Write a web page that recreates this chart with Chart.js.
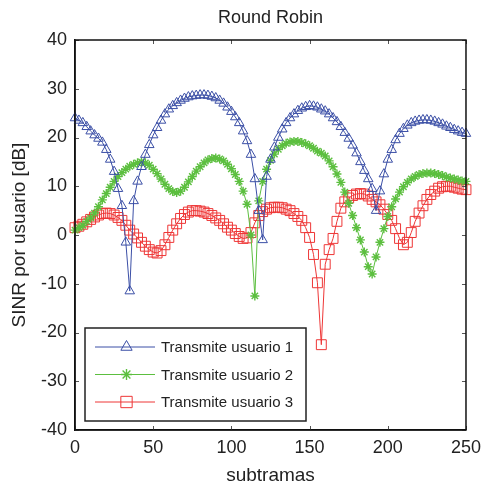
<!DOCTYPE html>
<html>
<head>
<meta charset="utf-8">
<script src="https://cdn.jsdelivr.net/npm/chart.js@4"></script>
<style>
  html, body { margin: 0; padding: 0; background: #fff; }
  #grafico { display: block; }
</style>
</head>
<body>
<canvas id="grafico" width="488" height="493"></canvas>
<script>
// subtramas (eje x)
const subtramas = [
  0, 2.5, 5, 7.5, 10, 12.5, 15, 17.5, 20, 22.5,
  25, 27.5, 30, 32.5, 35, 37.5, 40, 42.5, 45, 47.5,
  50, 52.5, 55, 57.5, 60, 62.5, 65, 67.5, 70, 72.5,
  75, 77.5, 80, 82.5, 85, 87.5, 90, 92.5, 95, 97.5,
  100, 102.5, 105, 107.5, 110, 112.5, 115, 117.5, 120, 122.5,
  125, 127.5, 130, 132.5, 135, 137.5, 140, 142.5, 145, 147.5,
  150, 152.5, 155, 157.5, 160, 162.5, 165, 167.5, 170, 172.5,
  175, 177.5, 180, 182.5, 185, 187.5, 190, 192.5, 195, 197.5,
  200, 202.5, 205, 207.5, 210, 212.5, 215, 217.5, 220, 222.5,
  225, 227.5, 230, 232.5, 235, 237.5, 240, 242.5, 245, 247.5,
  250
];

// SINR [dB] de cada usuario
const usuario1 = [
  24, 23.5, 23, 22.2, 21.3, 20.5, 19.8, 19, 17.5, 15.5,
  13, 9.5, 6, -1.5, -11.5, 7, 11, 14, 16.5, 18.5,
  20.5, 22, 23.5, 24.8, 25.8, 26.5, 27.1, 27.6, 28, 28.3,
  28.5, 28.6, 28.7, 28.7, 28.6, 28.4, 28.1, 27.6, 27, 26.2,
  25.3, 24.2, 23, 21.3, 19.3, 16.5, 11.5, 5, -1, 12,
  15.5, 18, 20, 21.7, 23, 24, 24.8, 25.5, 26, 26.3,
  26.5, 26.4, 26.2, 25.8, 25.4, 24.8, 24, 23.2, 22.2, 21,
  19.8, 18.4, 16.8, 15, 13.2, 11.5, 9.5, 5, 9, 12.5,
  15.5, 17.5, 19.5, 20.8, 21.8, 22.5, 23, 23.3, 23.5, 23.6,
  23.6, 23.5, 23.3, 23, 22.7, 22.3, 22, 21.6, 21.3, 21,
  20.8
];
const usuario2 = [
  1, 1.5, 2, 2.8, 3.5, 4.5, 5.8, 7.2, 8.5, 9.8,
  11, 12, 12.8, 13.5, 14.1, 14.5, 14.8, 15, 14.8, 14.3,
  13.5, 12.6, 11.5, 10.4, 9.5, 8.9, 8.7, 9, 9.8, 10.9,
  12, 13.1, 14, 14.8, 15.4, 15.7, 15.8, 15.6, 15.2, 14.5,
  13.6, 12.4, 11, 9, 6.3, 0, -12.5, 7, 11, 13.5,
  15.3, 16.6, 17.6, 18.3, 18.8, 19.1, 19.2, 19.2, 19, 18.7,
  18.3, 17.8, 17.2, 16.8, 16.2, 15.2, 14, 12.5, 10.8, 8.8,
  6.5, 4, 1.5, -1, -3.5, -6.5, -8, -4.5, -1.5, 1.3,
  3.8, 5.8, 7.4, 8.8, 9.9, 10.8, 11.5, 12, 12.4, 12.6,
  12.7, 12.7, 12.6, 12.4, 12.2, 11.9, 11.7, 11.5, 11.3, 11.1,
  11
];
const usuario3 = [
  1.5, 1.8, 2.2, 2.7, 3.2, 3.7, 4.1, 4.4, 4.5, 4.4,
  4.1, 3.6, 3, 2, 1, 0.2, -0.6, -1.5, -2.3, -3,
  -3.5, -3.7, -3.2, -2, -0.5, 1, 2.3, 3.4, 4.2, 4.7,
  5, 5, 4.9, 4.7, 4.4, 4, 3.5, 3, 2.3, 1.6,
  1, 0.3, -0.3, -0.7, -0.6, 0.5, 2.5, 4, 4.8, 5.3,
  5.6, 5.7, 5.7, 5.6, 5.3, 5, 4.4, 3.8, 3, 1.5,
  -0.5, -4, -9.8, -22.5, -6, -3, -0.7, 2.8, 5.5, 6.8,
  7.6, 8.1, 8.4, 8.5, 8.4, 8, 7.3, 6.8, 6.2, 5.3,
  4.2, 3, 1.3, -0.7, -2, -1.5, 0.5, 2.8, 4.5, 6,
  7.3, 8.3, 9, 9.6, 9.9, 10, 10, 9.8, 9.6, 9.4,
  9.3
];

const titulo = "Round Robin";
const nombres = ["Transmite usuario 1", "Transmite usuario 2", "Transmite usuario 3"];
const ticksX = [0, 50, 100, 150, 200, 250];
const ticksY = [-40, -30, -20, -10, 0, 10, 20, 30, 40];

const azul = "#3b4fa6";
const verde = "#5cbf3f";
const rojo = "#ee3636";
const fuente = "'Liberation Sans', Arial, sans-serif";

function puntos(ys) {
  return subtramas.map((x, i) => ({ x: x, y: ys[i] }));
}

function serie(label, ys, color, estilo, radio, grosor) {
  return {
    label: label,
    data: puntos(ys),
    borderColor: color,
    borderWidth: 1,
    pointStyle: estilo,
    pointRadius: radio,
    pointBorderColor: color,
    pointBackgroundColor: "rgba(0,0,0,0)",
    pointBorderWidth: grosor,
    tension: 0,
    clip: false
  };
}

// titulo centrado sobre el area de datos
const tituloCentrado = {
  id: "tituloCentrado",
  afterDraw(chart) {
    const { ctx, chartArea: a } = chart;
    ctx.save();
    ctx.fillStyle = "#222";
    ctx.font = "18px " + fuente;
    ctx.textAlign = "center";
    ctx.textBaseline = "middle";
    ctx.fillText(titulo, (a.left + a.right) / 2, 18);
    ctx.restore();
  }
};

// marcas hacia dentro y caja, estilo matlab
const cajaMatlab = {
  id: "cajaMatlab",
  afterDraw(chart) {
    const { ctx, chartArea: a, scales: { x, y } } = chart;
    ctx.save();
    ctx.strokeStyle = "#555";
    ctx.lineWidth = 1;
    ctx.beginPath();
    ticksX.forEach(v => {
      const px = Math.round(x.getPixelForValue(v)) + 0.5;
      ctx.moveTo(px, a.bottom); ctx.lineTo(px, a.bottom - 4);
      ctx.moveTo(px, a.top); ctx.lineTo(px, a.top + 4);
    });
    ticksY.forEach(v => {
      const py = Math.round(y.getPixelForValue(v)) + 0.5;
      ctx.moveTo(a.left, py); ctx.lineTo(a.left + 4, py);
      ctx.moveTo(a.right, py); ctx.lineTo(a.right - 4, py);
    });
    ctx.stroke();
    ctx.strokeStyle = "#111";
    ctx.lineWidth = 1.5;
    ctx.strokeRect(a.left, a.top, a.right - a.left, a.bottom - a.top);
    ctx.restore();
  }
};

// leyenda dentro del area, abajo a la izquierda
const leyenda = {
  id: "leyenda",
  afterDatasetsDraw(chart) {
    const ctx = chart.ctx;
    const x0 = 85, y0 = 328, w = 221, h = 93;
    ctx.save();
    ctx.fillStyle = "#fff";
    ctx.fillRect(x0, y0, w, h);
    ctx.strokeStyle = "#222";
    ctx.lineWidth = 1.5;
    ctx.strokeRect(x0, y0, w, h);
    const filas = [347, 374.5, 402];
    chart.data.datasets.forEach((ds, i) => {
      const yy = filas[i];
      ctx.strokeStyle = ds.borderColor;
      ctx.lineWidth = 1;
      ctx.beginPath();
      ctx.moveTo(95, yy); ctx.lineTo(155, yy);
      ctx.stroke();
      ctx.fillStyle = "rgba(0,0,0,0)";
      ctx.lineWidth = ds.pointBorderWidth;
      if (Chart.helpers && Chart.helpers.drawPoint) {
        Chart.helpers.drawPoint(ctx, { pointStyle: ds.pointStyle, radius: ds.pointRadius + 1, rotation: 0, borderWidth: ds.pointBorderWidth }, 126.5, yy);
      }
      ctx.fillStyle = "#222";
      ctx.font = "15px " + fuente;
      ctx.textBaseline = "middle";
      ctx.textAlign = "left";
      ctx.fillText(ds.label, 161, yy + 1);
    });
    ctx.restore();
  }
};

new Chart(document.getElementById("grafico"), {
  type: "line",
  data: {
    datasets: [
      serie(nombres[0], usuario1, azul, "triangle", 5.5, 1),
      serie(nombres[1], usuario2, verde, "star", 4.5, 1.4),
      serie(nombres[2], usuario3, rojo, "rect", 7, 1)
    ]
  },
  options: {
    responsive: false,
    animation: false,
    devicePixelRatio: 1,
    layout: { padding: { left: 0, right: 18, top: 40, bottom: 0 } },
    plugins: {
      legend: { display: false },
      tooltip: { enabled: false },
      title: { display: false }
    },
    scales: {
      x: {
        type: "linear",
        min: 0,
        max: 250,
        afterBuildTicks: s => { s.ticks = ticksX.map(v => ({ value: v })); },
        afterFit: s => { s.height = 63; },
        grid: { display: false, drawTicks: false },
        border: { display: true, color: "#111", width: 1.5 },
        ticks: { color: "#222", padding: 7, font: { family: fuente, size: 18 } },
        title: {
          display: true,
          text: "subtramas",
          color: "#222",
          font: { family: fuente, size: 19 },
          padding: { top: 0, bottom: 6 }
        }
      },
      y: {
        min: -40,
        max: 40,
        afterBuildTicks: s => { s.ticks = ticksY.map(v => ({ value: v })); },
        afterFit: s => { s.width = 75; },
        grid: { display: false, drawTicks: false },
        border: { display: true, color: "#111", width: 1.5 },
        ticks: { color: "#222", padding: 8, font: { family: fuente, size: 18 } },
        title: {
          display: true,
          text: "SINR por usuario [dB]",
          color: "#222",
          font: { family: fuente, size: 19 },
          padding: { top: 8, bottom: 0 }
        }
      }
    }
  },
  plugins: [tituloCentrado, cajaMatlab, leyenda]
});
</script>
</body>
</html>
